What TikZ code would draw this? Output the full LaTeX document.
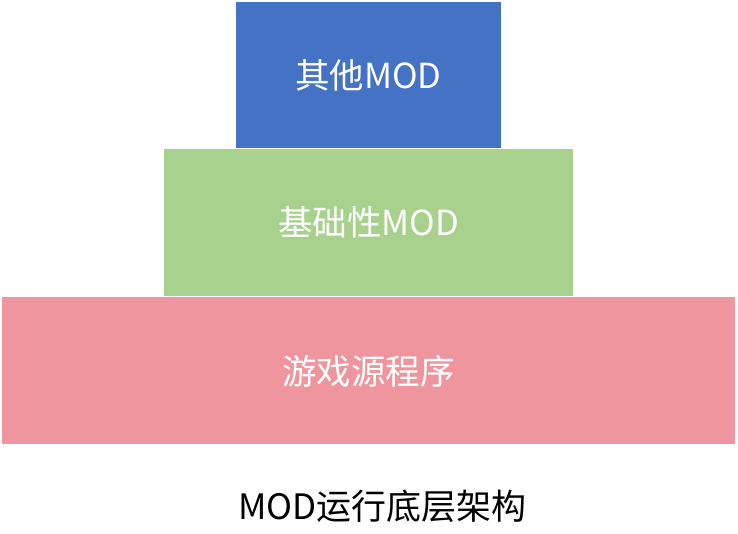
\documentclass[tikz,border=0pt]{standalone}
\usepackage{fontspec}
\newfontfamily\cjk{Noto Sans CJK SC}
\definecolor{cblue}{HTML}{4472C4}
\definecolor{cgreen}{HTML}{A9D18E}
\definecolor{cpink}{HTML}{EE959E}
\begin{document}
\begin{tikzpicture}[x=1pt,y=-1pt,
  layer/.style={inner sep=0pt, outer sep=0pt, text=white, font=\cjk\fontsize{34.5}{40}\selectfont},
  caption/.style={text=black, font=\cjk\fontsize{35}{40}\selectfont}]
\useasboundingbox[fill=white] (0,0) rectangle (738,534);
\fill[cpink] (2,297.5) rectangle (735,444);
\fill[cgreen] (164,149) rectangle (573,296);
\fill[cblue] (236,2) rectangle (501,148.5);
\node[layer] (top) at (368.5,75.5) {其他MOD};
\node[layer] (mid) at (368.5,222.5) {基础性MOD};
\node[layer] (bot) at (368.5,371) {游戏源程序};
\node[caption] (cap) at (382.5,506) {MOD运行底层架构};
\end{tikzpicture}
\end{document}
